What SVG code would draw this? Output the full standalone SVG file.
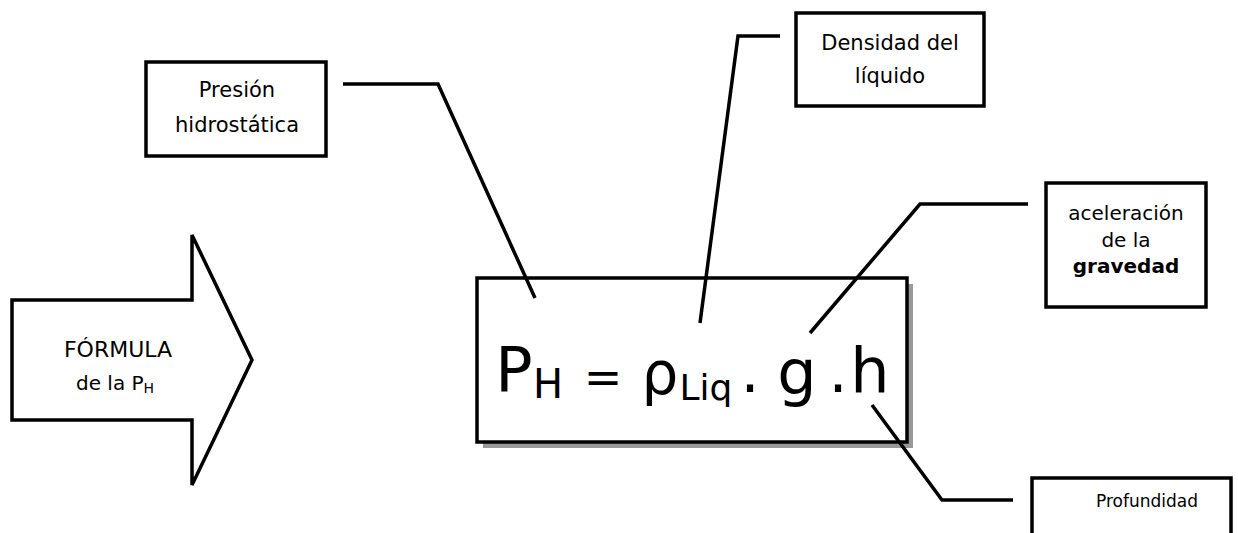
<svg xmlns="http://www.w3.org/2000/svg" width="1238" height="533" viewBox="0 0 1238 533">
<style>
.box{fill:#fff;stroke:#000;stroke-width:3.5}
.ln{fill:none;stroke:#000;stroke-width:3.5;stroke-linejoin:miter}
.t{font-family:"DejaVu Sans","Liberation Sans",sans-serif;fill:#000;text-anchor:middle}
</style>
<rect width="1238" height="533" fill="#fff"/>
<g id="arrow">
<polygon class="box" points="12,300 192,300 192,235 252,360 192,485 192,420 12,420"/>
<text class="t" x="118" y="357" font-size="22">FÓRMULA</text>
<text class="t" x="76" y="390" font-size="20" text-anchor="start" style="text-anchor:start">de la P<tspan font-size="14" dy="3">H</tspan></text>
</g>
<g id="formula">
<rect x="483" y="284" width="430" height="164" fill="#999"/>
<rect class="box" x="477" y="278" width="430" height="164"/>
<text class="t"><tspan x="514" y="391" font-size="62">P</tspan><tspan x="548" y="398" font-size="40">H</tspan><tspan x="603" y="393" font-size="46">=</tspan><tspan x="660" y="394" font-size="58">ρ</tspan><tspan x="706" y="400" font-size="36">Liq</tspan><tspan x="750" y="392" font-size="60">.</tspan><tspan x="797" y="394" font-size="62">g</tspan><tspan x="838" y="392" font-size="60">.</tspan><tspan x="870" y="392" font-size="62">h</tspan></text>
</g>
<g id="presion">
<rect class="box" x="146" y="62" width="180" height="94"/>
<text class="t" x="237" y="97" font-size="21">Presión</text>
<text class="t" x="237" y="132" font-size="21">hidrostática</text>
</g>
<g id="densidad">
<rect class="box" x="796" y="13" width="188" height="93"/>
<text class="t" x="890" y="50" font-size="21">Densidad del</text>
<text class="t" x="890" y="83" font-size="21">líquido</text>
</g>
<g id="aceleracion">
<rect class="box" x="1046" y="183" width="160" height="124"/>
<text class="t" x="1126" y="220" font-size="20">aceleración</text>
<text class="t" x="1126" y="247" font-size="20">de la</text>
<text class="t" x="1126" y="273" font-size="20" font-weight="bold">gravedad</text>
</g>
<g id="profundidad">
<rect class="box" x="1032" y="478" width="199" height="70"/>
<text class="t" x="1147" y="507" font-size="17">Profundidad</text>
</g>
<g id="connectors">
<polyline class="ln" points="343,84 438,84 535,298"/>
<polyline class="ln" points="780,36 738,36 700,323"/>
<polyline class="ln" points="1028,204 920,204 810,333"/>
<polyline class="ln" points="1013,500 942,500 872,405"/>
</g>
</svg>
